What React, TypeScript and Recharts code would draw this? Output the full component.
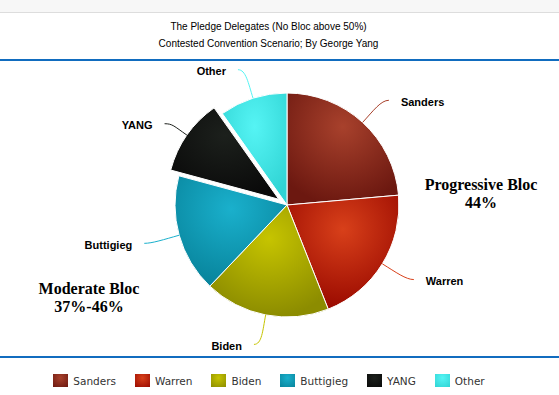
import { Cell, Legend, Pie, PieChart } from "recharts"

const names = ["Sanders", "Warren", "Biden", "Buttigieg", "YANG", "Other"]
const shares = [23.6, 20.4, 18.1, 17.1, 11.0, 9.8]
const baseColors = ["#a8412c", "#d8401a", "#c6c400", "#1ab0cc", "#1c201c", "#55f4f4"]
const darkColors = ["#6c1810", "#9a0a00", "#8c8c00", "#08849c", "#0a0a0a", "#30d4d4"]
const explodedName = "YANG"

const W = 559
const H = 395
const CX = 287
const CY = 205
const R = 112
const SLICE_OFFSET = 10
const LABEL_DIST = 30
const RADIAN = Math.PI / 180

const data = names.map((name, i) => ({ name, value: shares[i] }))
const explodedIdx = names.indexOf(explodedName)

// direction of the pulled-out slice, measured clockwise from 12 o'clock
const total = shares.reduce((a, b) => a + b, 0)
const before = shares.slice(0, explodedIdx).reduce((a, b) => a + b, 0)
const theta = ((before + shares[explodedIdx] / 2) / total) * 360 * RADIAN
const offX = Math.sin(theta) * SLICE_OFFSET
const offY = -Math.cos(theta) * SLICE_OFFSET

function makeLabel(exploded: boolean) {
  return (props: any) => {
    const { cx, cy, midAngle, outerRadius, index } = props
    if ((index === explodedIdx) !== exploded) return <g />
    const cos = Math.cos(-midAngle * RADIAN)
    const sin = Math.sin(-midAngle * RADIAN)
    const side = cos >= 0 ? 1 : -1
    // labels sit around the unsliced pie, connectors start at the slice edge
    const sx = cx + outerRadius * cos
    const sy = cy + outerRadius * sin
    const mx = cx + (outerRadius + 16) * cos
    const my = cy + (outerRadius + 16) * sin
    const ex = CX + (outerRadius + LABEL_DIST) * cos + side * 6
    const ey = CY + (outerRadius + LABEL_DIST) * sin
    return (
      <g>
        <path
          d={`M${sx},${sy} C${mx},${my} ${ex - side * 8},${ey} ${ex},${ey}`}
          stroke={baseColors[index]}
          strokeWidth={1}
          fill="none"
        />
        <text
          x={ex + side * 12}
          y={ey + 1.5}
          textAnchor={side > 0 ? "start" : "end"}
          dominantBaseline="central"
          fontFamily="'Liberation Sans', Arial, sans-serif"
          fontSize={11}
          fontWeight="bold"
          fill="#000"
        >
          {names[index]}
        </text>
      </g>
    )
  }
}

function LegendBox() {
  return (
    <div
      style={{
        display: "flex",
        justifyContent: "center",
        alignItems: "center",
        gap: 19,
        fontFamily: "'DejaVu Sans', Verdana, sans-serif",
        fontSize: 10.5,
        color: "#333",
      }}
    >
      {names.map((n, i) => (
        <div key={n} style={{ display: "flex", alignItems: "center", gap: 5 }}>
          <div
            style={{
              width: 15,
              height: 13,
              background: `radial-gradient(circle at 50% 30%, ${baseColors[i]}, ${darkColors[i]})`,
            }}
          />
          <span>{n}</span>
        </div>
      ))}
    </div>
  )
}

const serifNote: any = {
  position: "absolute",
  fontFamily: "'Liberation Serif', 'Times New Roman', serif",
  fontWeight: "bold",
  fontSize: 16,
  lineHeight: "18px",
  textAlign: "center",
  color: "#000",
}

export default function App() {
  return (
    <div
      style={{
        position: "fixed",
        left: 0,
        top: 0,
        width: W,
        height: H,
        background: "#fff",
        overflow: "hidden",
      }}
    >
      <svg width={0} height={0} style={{ position: "absolute" }}>
        <defs>
          {names.map((n, i) => (
            <radialGradient key={n} id={`grad-${i}`} cx="50%" cy="30%" r="70%">
              <stop offset="0%" stopColor={baseColors[i]} />
              <stop offset="100%" stopColor={darkColors[i]} />
            </radialGradient>
          ))}
        </defs>
      </svg>

      <div style={{ position: "absolute", left: 0, top: 0, width: W, height: 12, background: "#f7f7f7", borderBottom: "1px solid #ddd" }} />
      <div
        style={{
          position: "absolute",
          left: 0,
          top: 18,
          width: 537,
          textAlign: "center",
          fontFamily: "'Liberation Sans', Arial, sans-serif",
          fontSize: 10,
          lineHeight: "17px",
          color: "#000",
        }}
      >
        <div>The Pledge Delegates (No Bloc above 50%)</div>
        <div>Contested Convention Scenario; By George Yang</div>
      </div>
      <div style={{ position: "absolute", left: 0, top: 59, width: W, height: 2, background: "#116cbf" }} />
      <div style={{ position: "absolute", left: 0, top: 356, width: W, height: 2, background: "#116cbf" }} />

      <div style={{ position: "absolute", left: 0, top: 0 }}>
        <PieChart width={W} height={H} margin={{ top: 0, right: 0, bottom: 0, left: 0 }}>
          <Pie
            data={data}
            dataKey="value"
            nameKey="name"
            cx={CX}
            cy={CY}
            outerRadius={R}
            startAngle={90}
            endAngle={-270}
            label={makeLabel(false)}
            labelLine={false}
            isAnimationActive={false}
          >
            {data.map((d, i) => (
              <Cell
                key={d.name}
                fill={i === explodedIdx ? "none" : `url(#grad-${i})`}
                stroke={i === explodedIdx ? "none" : "#fff"}
                strokeWidth={1}
              />
            ))}
          </Pie>
          <Pie
            data={data}
            dataKey="value"
            nameKey="name"
            cx={CX + offX}
            cy={CY + offY}
            outerRadius={R}
            startAngle={90}
            endAngle={-270}
            label={makeLabel(true)}
            labelLine={false}
            isAnimationActive={false}
            legendType="none"
          >
            {data.map((d, i) => (
              <Cell
                key={d.name}
                fill={i === explodedIdx ? `url(#grad-${i})` : "none"}
                stroke={i === explodedIdx ? "#fff" : "none"}
                strokeWidth={1}
              />
            ))}
          </Pie>
          <Legend content={() => <LegendBox />} wrapperStyle={{ left: 0, top: 374, width: 538 }} />
        </PieChart>
      </div>

      <div style={{ ...serifNote, left: 410, top: 176, width: 142 }}>
        Progressive Bloc
        <br />
        44%
      </div>
      <div style={{ ...serifNote, left: 18, top: 280, width: 142 }}>
        Moderate Bloc
        <br />
        37%-46%
      </div>
    </div>
  )
}
